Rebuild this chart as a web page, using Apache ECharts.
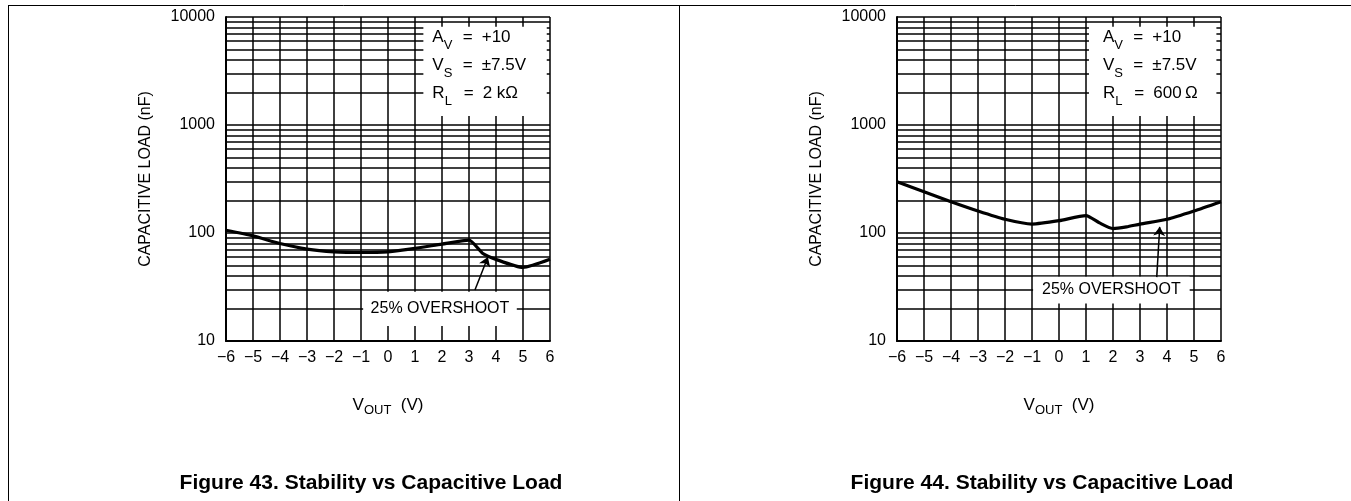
<!DOCTYPE html>
<html>
<head>
<meta charset="utf-8">
<script src="https://cdn.jsdelivr.net/npm/echarts@6/dist/echarts.min.js"></script>
<style>
  html, body { margin: 0; padding: 0; background: #fff; }
  #chart { width: 1351px; height: 501px; }
</style>
</head>
<body>
<div id="chart"></div>
<script>
// x positions (V) and capacitive load (nF)
const leftX = [-6, -5, -4, -3, -2, -1, 0, 1, 2, 3, 3.5, 4, 5, 6];
const leftLoad = [106, 94, 80, 71, 67, 66, 67, 72, 79, 86, 65, 57, 48, 57];
const rightX = [-6, -5, -4, -3, -2, -1, 0, 1, 1.5, 2, 2.5, 3, 4, 5, 6];
const rightLoad = [298, 241, 195, 160, 134, 121, 130, 145, 124, 110, 114, 121, 134, 160, 195];

const xTicks = [-6, -5, -4, -3, -2, -1, 0, 1, 2, 3, 4, 5, 6];
const yTicks = [10, 100, 1000, 10000];
const minorY = [20, 30, 40, 50, 60, 70, 80, 90, 200, 300, 400, 500, 600, 700, 800, 900,
                2000, 3000, 4000, 5000, 6000, 7000, 8000, 9000];

// annotation boxes (data coords) and arrows
const leftInfoBox = [[1.31, 8128], [5.88, 1211]];
const rightInfoBox = [[1.11, 8128], [5.83, 1211]];
const leftOverBox = [[-0.92, 28.6], [4.77, 13.8]];
const rightOverBox = [[-0.96, 39.4], [4.84, 22.3]];
const leftArrow = [[3.22, 29.7], [3.70, 60]];
const rightArrow = [[3.62, 39], [3.73, 114]];

const FONT = 'Liberation Sans';
const pairs = (xs, ys) => xs.map((x, i) => [x, ys[i]]);

const infoRich = {
    n: { fontFamily: FONT, fontSize: 17, color: '#000', lineHeight: 28, verticalAlign: 'middle' },
    s: { fontFamily: FONT, fontSize: 13, color: '#000', verticalAlign: 'bottom', width: 19 },
    e: { fontFamily: FONT, fontSize: 17, color: '#000', width: 19 },
    v: { fontFamily: FONT, fontSize: 17, color: '#000' }
};

function infoText(rl) {
    return '{n|A}{s|V}{e|=}{v|+10}\n' +
        '{n|V}{s|S}{e|=}{v|\u00b17.5V}\n' +
        '{n|R}{s|L}{e|=}{v|' + rl + '}';
}

function panel(idx, xs, ys, infoBox, overBox, arrow, rl, padLeft) {
    return [
        {
            type: 'line', xAxisIndex: idx, yAxisIndex: idx, z: 1, silent: true,
            data: [],
            markLine: {
                z: 1, silent: true, symbol: 'none', animation: false,
                label: { show: false },
                lineStyle: { color: '#000', width: 1.5, type: 'solid' },
                data: minorY.map(v => ({ yAxis: v }))
            }
        },
        {
            type: 'line', xAxisIndex: idx, yAxisIndex: idx, z: 3, silent: true,
            data: [],
            markArea: {
                z: 3, silent: true, animation: false,
                itemStyle: { color: '#fff', opacity: 1 },
                data: [
                    [
                        {
                            coord: infoBox[0],
                            label: {
                                show: true, position: [padLeft, -3],
                                formatter: infoText(rl), rich: infoRich
                            }
                        },
                        { coord: infoBox[1] }
                    ],
                    [
                        {
                            coord: overBox[0],
                            label: {
                                show: true, position: 'inside',
                                formatter: '25% OVERSHOOT',
                                fontFamily: FONT, fontSize: 16, color: '#000'
                            }
                        },
                        { coord: overBox[1] }
                    ]
                ]
            }
        },
        {
            type: 'line', xAxisIndex: idx, yAxisIndex: idx, z: 4,
            data: pairs(xs, ys),
            smooth: 0.2, showSymbol: false, symbol: 'none',
            lineStyle: { color: '#000', width: 3.2 },
            markLine: {
                z: 5, silent: true, animation: false,
                symbol: ['none', 'arrow'], symbolSize: 9,
                label: { show: false },
                lineStyle: { color: '#000', width: 1.5, type: 'solid' },
                data: [[{ coord: arrow[0] }, { coord: arrow[1] }]]
            }
        }
    ];
}

function xAxisCfg(idx) {
    return {
        type: 'value', gridIndex: idx, min: -6, max: 6, interval: 1,
        name: '{m|V}{s|OUT}{m|  (V)}', nameLocation: 'middle', nameGap: 52,
        nameTextStyle: {
            rich: {
                m: { fontFamily: FONT, fontSize: 17, color: '#000', lineHeight: 24, verticalAlign: 'middle' },
                s: { fontFamily: FONT, fontSize: 13, color: '#000', verticalAlign: 'bottom' }
            }
        },
        axisLine: { show: true, onZero: false, lineStyle: { color: '#000', width: 2 } },
        axisTick: { show: false },
        axisLabel: {
            fontFamily: FONT, fontSize: 16, color: '#000', margin: 9,
            formatter: v => xTicks.includes(v) ? String(v).replace('-', '\u2212') : ''
        },
        splitLine: { show: true, lineStyle: { color: '#000', width: 1.5 } }
    };
}

function yAxisCfg(idx) {
    return {
        type: 'log', logBase: 10, gridIndex: idx, min: 10, max: 10000,
        name: 'CAPACITIVE LOAD (nF)', nameLocation: 'middle', nameGap: 72,
        nameTextStyle: { fontFamily: FONT, fontSize: 16, color: '#000' },
        axisLine: { show: true, onZero: false, lineStyle: { color: '#000', width: 2 } },
        axisTick: { show: false },
        axisLabel: {
            fontFamily: FONT, fontSize: 16, color: '#000', margin: 11,
            formatter: v => yTicks.includes(Math.round(v)) ? String(Math.round(v)) : ''
        },
        splitLine: { show: true, lineStyle: { color: '#000', width: 1.5 } }
    };
}

const chart = echarts.init(document.getElementById('chart'), null, { renderer: 'canvas' });
chart.setOption({
    animation: false,
    backgroundColor: '#fff',
    grid: [
        { left: 226, top: 17, width: 324, height: 324 },
        { left: 897, top: 17, width: 324, height: 324 }
    ],
    xAxis: [xAxisCfg(0), xAxisCfg(1)],
    yAxis: [yAxisCfg(0), yAxisCfg(1)],
    series: [].concat(
        panel(0, leftX, leftLoad, leftInfoBox, leftOverBox, leftArrow, '2 k\u03a9', 9),
        panel(1, rightX, rightLoad, rightInfoBox, rightOverBox, rightArrow, '600\u2009\u03a9', 14)
    ),
    graphic: [
        { type: 'line', shape: { x1: 8, y1: 5.5, x2: 1351, y2: 5.5 }, style: { stroke: '#000', lineWidth: 1 } },
        { type: 'line', shape: { x1: 8.5, y1: 5, x2: 8.5, y2: 501 }, style: { stroke: '#000', lineWidth: 1 } },
        { type: 'line', shape: { x1: 679.5, y1: 5, x2: 679.5, y2: 501 }, style: { stroke: '#000', lineWidth: 1 } },
        {
            type: 'text', x: 371, y: 483,
            style: { text: 'Figure 43. Stability vs Capacitive Load', font: 'bold 21px "Liberation Sans"',
                     fill: '#000', align: 'center', verticalAlign: 'middle' }
        },
        {
            type: 'text', x: 1042, y: 483,
            style: { text: 'Figure 44. Stability vs Capacitive Load', font: 'bold 21px "Liberation Sans"',
                     fill: '#000', align: 'center', verticalAlign: 'middle' }
        }
    ]
});
</script>
</body>
</html>
